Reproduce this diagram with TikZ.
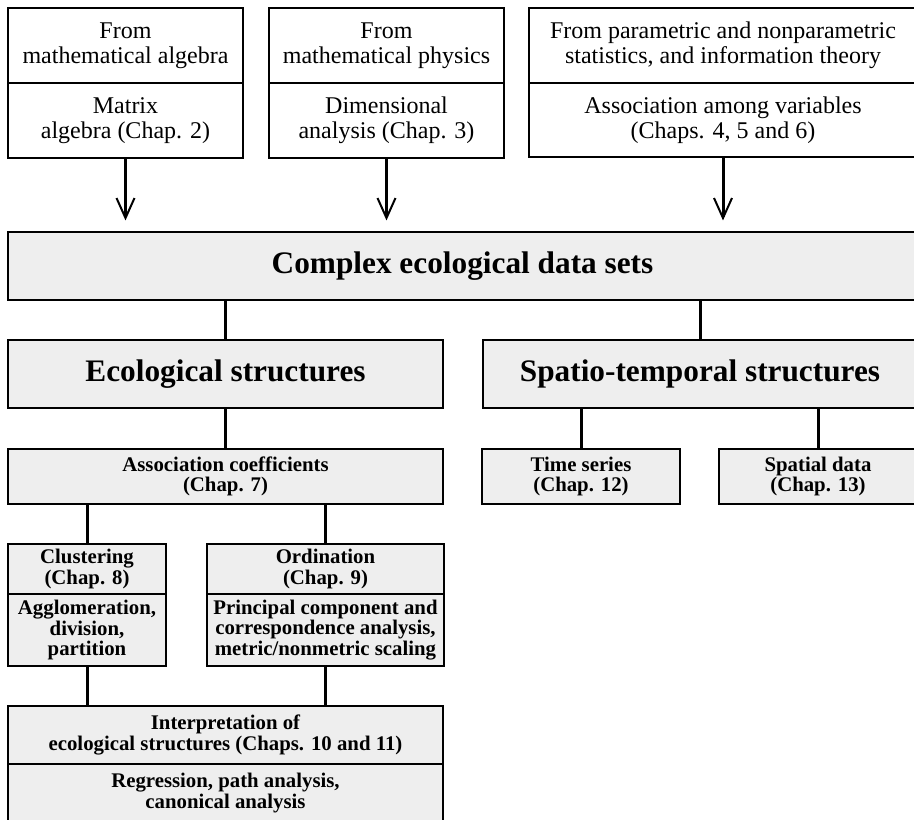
\documentclass[tikz,border=0pt]{standalone}
\usepackage{fontspec}
\setmainfont{Liberation Serif}
\usetikzlibrary{arrows.meta}
\definecolor{boxgray}{RGB}{238,238,238}
\begin{document}
\begin{tikzpicture}[x=1pt,y=1pt,
  box/.style={draw, line width=1.1pt, inner sep=0pt, align=center},
  topbox/.style={box, fill=white, font=\fontsize{24}{25}\selectfont},
  bigbox/.style={box, fill=boxgray, font=\fontsize{31.3}{34}\selectfont\bfseries},
  smallbox/.style={box, fill=boxgray, font=\fontsize{20.8}{20.5}\selectfont\bfseries},
  link/.style={line width=3pt},
  arr/.style={line width=3pt, -{Straight Barb[length=20pt,width=18pt,line width=2pt]}, shorten >=11pt}
]
\clip (0,0) rectangle (914,-820);
\fill[white] (0,0) rectangle (914,-820);

% top boxes
\node[topbox, minimum width=235pt, minimum height=75pt] (a1) at (125.5,-45.5) {From\\mathematical algebra};
\node[topbox, minimum width=235pt, minimum height=75pt] (a2) at (125.5,-120.5) {Matrix\\algebra (Chap. 2)};
\node[topbox, minimum width=235pt, minimum height=75pt] (b1) at (386.5,-45.5) {From\\mathematical physics};
\node[topbox, minimum width=235pt, minimum height=75pt] (b2) at (386.5,-120.5) {Dimensional\\analysis (Chap. 3)};
\node[topbox, minimum width=388pt, minimum height=75pt] (c1) at (723,-45.5) {From parametric and nonparametric\\statistics, and information theory};
\node[topbox, minimum width=388pt, minimum height=74pt] (c2) at (723,-120) {Association among variables\\(Chaps. 4, 5 and 6)};

% main box
\node[bigbox, minimum width=909pt, minimum height=68pt] (d) at (462.5,-266) {Complex ecological data sets};

\draw[arr] (a2.south) -- (a2.south |- d.north);
\draw[arr] (b2.south) -- (b2.south |- d.north);
\draw[arr] (c2.south) -- (c2.south |- d.north);

% second level
\node[bigbox, minimum width=435pt, minimum height=68pt] (e) at (225.5,-374) {Ecological structures};
\node[bigbox, minimum width=434pt, minimum height=68pt] (f) at (700,-374) {Spatio-temporal structures};
\draw[link] (e.north |- d.south) -- (e.north);
\draw[link] (f.north |- d.south) -- (f.north);

% third level
\node[smallbox, minimum width=435pt, minimum height=55pt] (g) at (225.5,-476.5) {Association coefficients\\(Chap. 7)};
\node[smallbox, minimum width=198pt, minimum height=55pt] (h) at (581,-476.5) {Time series\\(Chap. 12)};
\node[smallbox, minimum width=198pt, minimum height=55pt] (i) at (818,-476.5) {Spatial data\\(Chap. 13)};
\draw[link] (e.south) -- (g.north);
\draw[link] (h.north |- f.south) -- (h.north);
\draw[link] (i.north |- f.south) -- (i.north);

% clustering / ordination
\node[smallbox, minimum width=158pt, minimum height=50pt] (j1) at (87,-569) {Clustering\\(Chap. 8)};
\node[smallbox, minimum width=158pt, minimum height=72pt] (j2) at (87,-630) {Agglomeration,\\division,\\partition};
\node[smallbox, minimum width=237pt, minimum height=50pt] (k1) at (325.5,-569) {Ordination\\(Chap. 9)};
\node[smallbox, minimum width=237pt, minimum height=72pt] (k2) at (325.5,-630) {Principal component and\\correspondence analysis,\\metric/nonmetric scaling};
\draw[link] (j1.north |- g.south) -- (j1.north);
\draw[link] (k1.north |- g.south) -- (k1.north);

% interpretation
\node[smallbox, minimum width=435pt, minimum height=58pt] (l1) at (225.5,-735) {Interpretation of\\ecological structures (Chaps. 10 and 11)};
\node[smallbox, minimum width=435pt, minimum height=58pt] (l2) at (225.5,-793) {Regression, path analysis,\\canonical analysis};
\draw[link] (j2.south) -- (j2.south |- l1.north);
\draw[link] (k2.south) -- (k2.south |- l1.north);
\end{tikzpicture}
\end{document}
